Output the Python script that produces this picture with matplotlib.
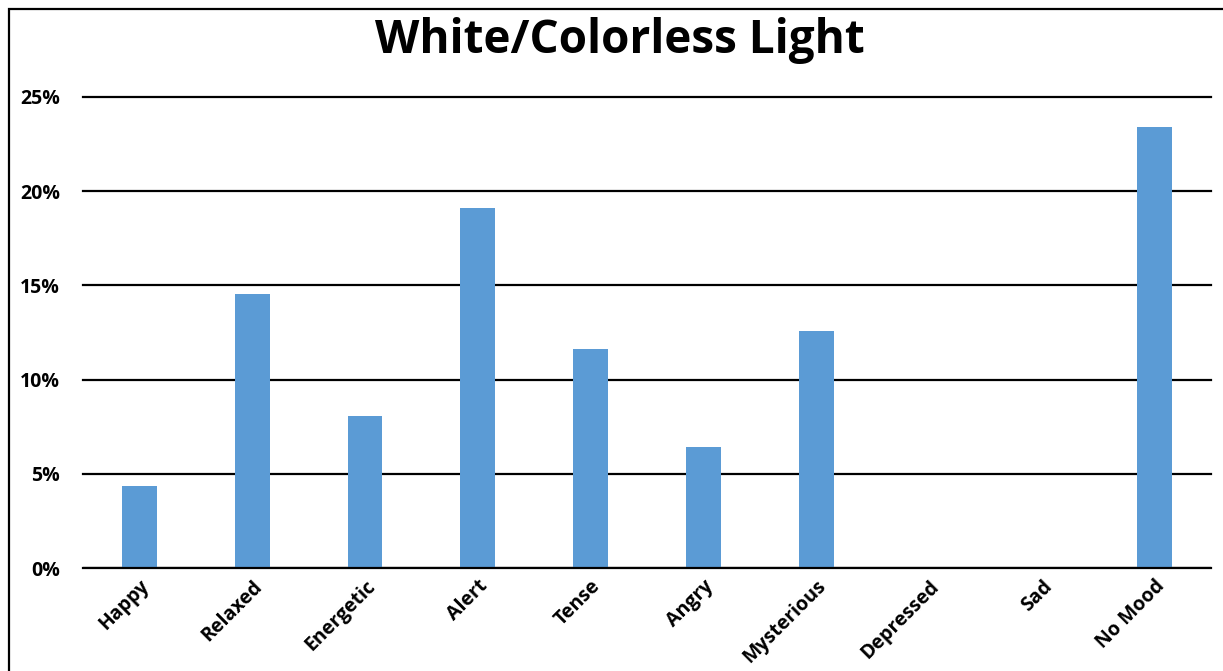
import matplotlib
matplotlib.use("Agg")
import matplotlib.pyplot as plt
from matplotlib.patches import Rectangle
from matplotlib.ticker import FuncFormatter

moods = ["Happy", "Relaxed", "Energetic", "Alert", "Tense", "Angry",
         "Mysterious", "Depressed", "Sad", "No Mood"]
shares = [4.35, 14.55, 8.05, 19.1, 11.6, 6.4, 12.6, 0.0, 0.0, 23.4]
yticks = [0, 5, 10, 15, 20, 25]

plt.rcParams["font.family"] = ["Open Sans", "DejaVu Sans"]

fig = plt.figure(figsize=(12.23, 6.71), dpi=100)
ax = fig.add_axes([83 / 1223, 1 - 568 / 671, 1128 / 1223, 471 / 671])

x = range(len(moods))
ax.bar(x, shares, width=0.31, color="#5B9BD5", zorder=2)

ax.set_xlim(-0.5, len(moods) - 0.5)
ax.set_ylim(0, 25)
ax.set_yticks(yticks)
ax.yaxis.set_major_formatter(FuncFormatter(lambda v, _: f"{v:.0f}%"))
ax.grid(axis="y", color="black", lw=1.6, zorder=1)
for gl in ax.get_ygridlines():
    gl.set_clip_on(False)
ax.set_axisbelow(True)
ax.tick_params(axis="y", length=0, pad=16.5, labelsize=14)
ax.tick_params(axis="x", length=0, pad=6, labelsize=14)
for lab in ax.get_yticklabels():
    lab.set_fontweight("bold")

ax.set_xticks(list(x))
ax.set_xticklabels(moods, rotation=45, ha="right", rotation_mode="anchor",
                   fontweight="bold")
for s in ax.spines.values():
    s.set_visible(False)
ax.axhline(0, color="black", lw=1.6, zorder=3)

fig.text(620 / 1223, 1 - 40 / 671, "White/Colorless Light", ha="center",
         va="center", fontsize=33, fontweight="bold")

# chart frame (cropped: only left and top edges visible)
fig.patches.append(Rectangle((9 / 1223, -0.1), 1.2, 1 - 9 / 671 + 0.1,
                             transform=fig.transFigure, fill=False,
                             edgecolor="black", lw=1.6))

fig.savefig("out.png", dpi=100)
